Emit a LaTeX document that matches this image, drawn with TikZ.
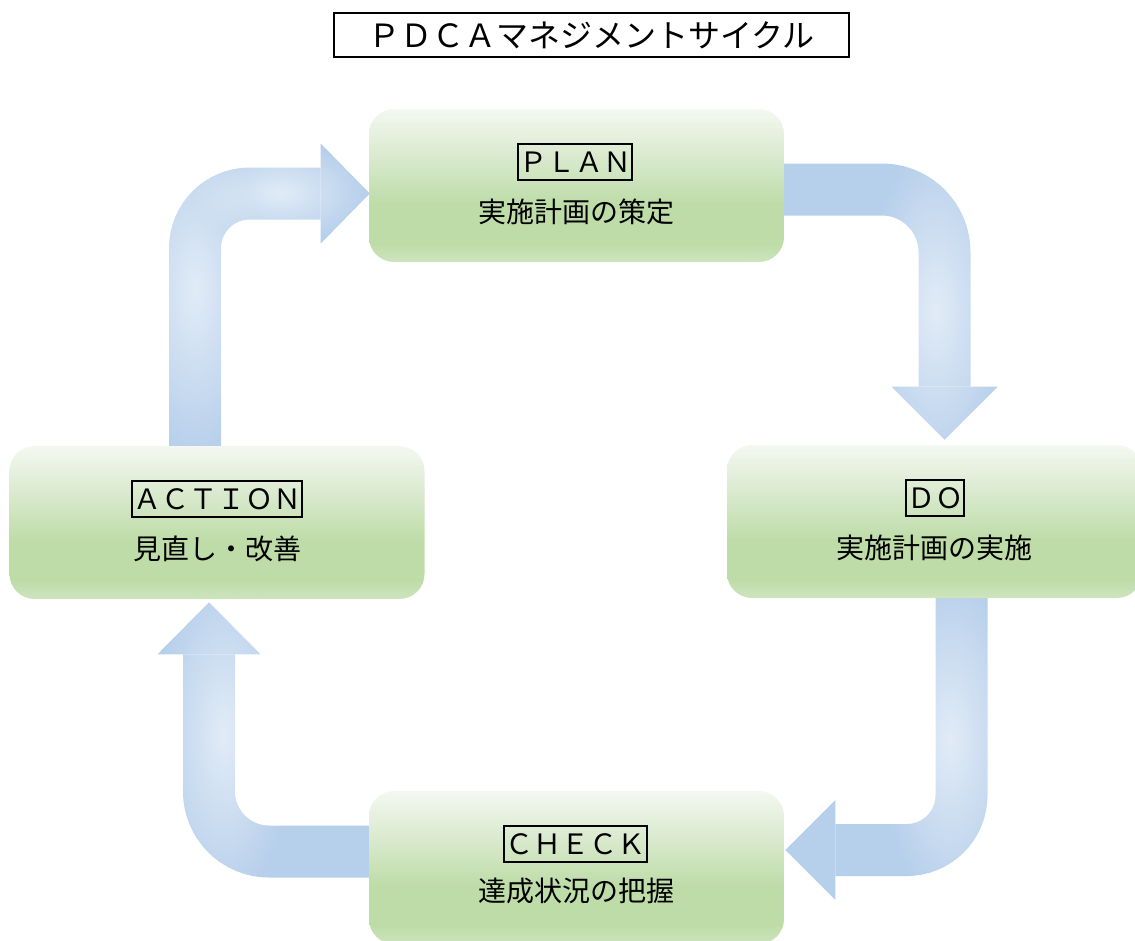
\documentclass[tikz,border=0pt]{standalone}
\usepackage{fontspec}
\newfontfamily\jp{Noto Sans CJK JP}
\usetikzlibrary{fadings,calc,backgrounds}
\definecolor{arrowblue}{RGB}{182,207,235}
\definecolor{gTop}{RGB}{244,248,241}
\definecolor{gMid}{RGB}{218,234,207}
\definecolor{gDark}{RGB}{190,220,168}
\definecolor{gBot}{RGB}{206,228,190}
\pgfdeclareverticalshading{greenbox}{100bp}{color(0bp)=(gBot); color(25bp)=(gBot); color(31bp)=(gDark); color(44bp)=(gDark); color(60bp)=(gMid); color(75bp)=(gTop); color(100bp)=(gTop)}
\tikzfading[name=glowfade, inner color=transparent!0, outer color=transparent!100]
\begin{document}
\begin{tikzpicture}[x=0.75pt,y=-0.75pt,
  phase/.style={shade, shading=greenbox, rounded corners=18.75pt, minimum width=311.25pt, minimum height=114.75pt, inner sep=0pt},
  tag/.style={draw, line width=1.4pt, font=\jp\fontsize{21}{21}\selectfont, inner xsep=1pt, inner ysep=0pt, minimum height=27pt, text height=18.5pt, text depth=2.5pt},
  desc/.style={font=\jp\fontsize{21}{21}\selectfont, inner sep=0pt, text height=18.5pt, text depth=2.5pt},
  shaft/.style={draw=arrowblue, line width=39pt, line cap=butt},
  head/.style={fill=arrowblue},
  glow/.style={fill=white, fill opacity=0.6, path fading=glowfade}]
\useasboundingbox (0,0) rectangle (1135,940);
\clip (0,0) rectangle (1135,940);

% title
\node[draw, line width=1.5pt, minimum width=386.25pt, minimum height=33pt, inner sep=0pt,
      font=\jp\fontsize{24}{24}\selectfont, text height=21pt, text depth=3pt] (title) at (591.5,35) {ＰＤＣＡマネジメントサイクル};

% phase boxes
\node[phase] (plan) at (576.5,185.5) {};
\node[phase] (do) at (934.5,521.5) {};
\node[phase] (action) at (217,522.5) {};
\node[phase] (check) at (576.5,867.5) {};

\node[tag] (planT) at ($(plan.north)+(-1.5,53)$) {ＰＬＡＮ};
\node[desc] (planD) at ($(plan.north)+(0,103)$) {実施計画の策定};
\node[tag] (doT) at ($(do.north)+(0.5,53)$) {ＤＯ};
\node[desc] (doD) at ($(do.north)+(0,103)$) {実施計画の実施};
\node[tag] (actionT) at ($(action.north)+(0,53)$) {ＡＣＴＩＯＮ};
\node[desc] (actionD) at ($(action.north)+(0,103)$) {見直し・改善};
\node[tag] (checkT) at ($(check.north)+(-1,53)$) {ＣＨＥＣＫ};
\node[desc] (checkD) at ($(check.north)+(0,100)$) {達成状況の把握};

% arrows
\coordinate (a1s) at ($(action.north)+(-22,4)$);
\coordinate (a1t) at ($(plan.west)+(1,8)$);
\coordinate (a1b) at ($(a1t)+(-49,0)$);
\coordinate (a2s) at ($(plan.east)+(-4,4)$);
\coordinate (a2t) at ($(do.north)+(10,-5)$);
\coordinate (a2b) at ($(a2t)+(0,-53)$);
\coordinate (a3s) at ($(do.south)+(27,-4)$);
\coordinate (a3t) at ($(check.east)+(1,-17.5)$);
\coordinate (a3b) at ($(a3t)+(50,0)$);
\coordinate (a4s) at ($(check.west)+(4,-16)$);
\coordinate (a4t) at ($(action.south)+(-8,3)$);
\coordinate (a4b) at ($(a4t)+(0,52)$);

\begin{scope}[on background layer]
  \draw[shaft, rounded corners=41pt] (a1s) |- (a1b);
  \fill[head] ($(a1b)+(0,-50)$) -- (a1t) -- ($(a1b)+(0,50)$) -- cycle;
  \draw[shaft, rounded corners=47pt] (a2s) -| (a2b);
  \fill[head] ($(a2b)+(-53,0)$) -- (a2t) -- ($(a2b)+(53,0)$) -- cycle;
  \draw[shaft, rounded corners=41pt] (a3s) |- (a3b);
  \fill[head] ($(a3b)+(0,-50)$) -- (a3t) -- ($(a3b)+(0,50)$) -- cycle;
  \draw[shaft, rounded corners=45pt] (a4s) -| (a4b);
  \fill[head] ($(a4b)+(-51.5,0)$) -- (a4t) -- ($(a4b)+(51.5,0)$) -- cycle;
  % light glows
  \fill[glow] (195,290) ellipse [x radius=70, y radius=170];
  \fill[glow] (280,193) ellipse [x radius=90, y radius=50];
  \fill[glow] (936,310) ellipse [x radius=70, y radius=170];
  \fill[glow] (950,740) ellipse [x radius=70, y radius=170];
  \fill[glow] (224,735) ellipse [x radius=70, y radius=170];
\end{scope}
\end{tikzpicture}
\end{document}
